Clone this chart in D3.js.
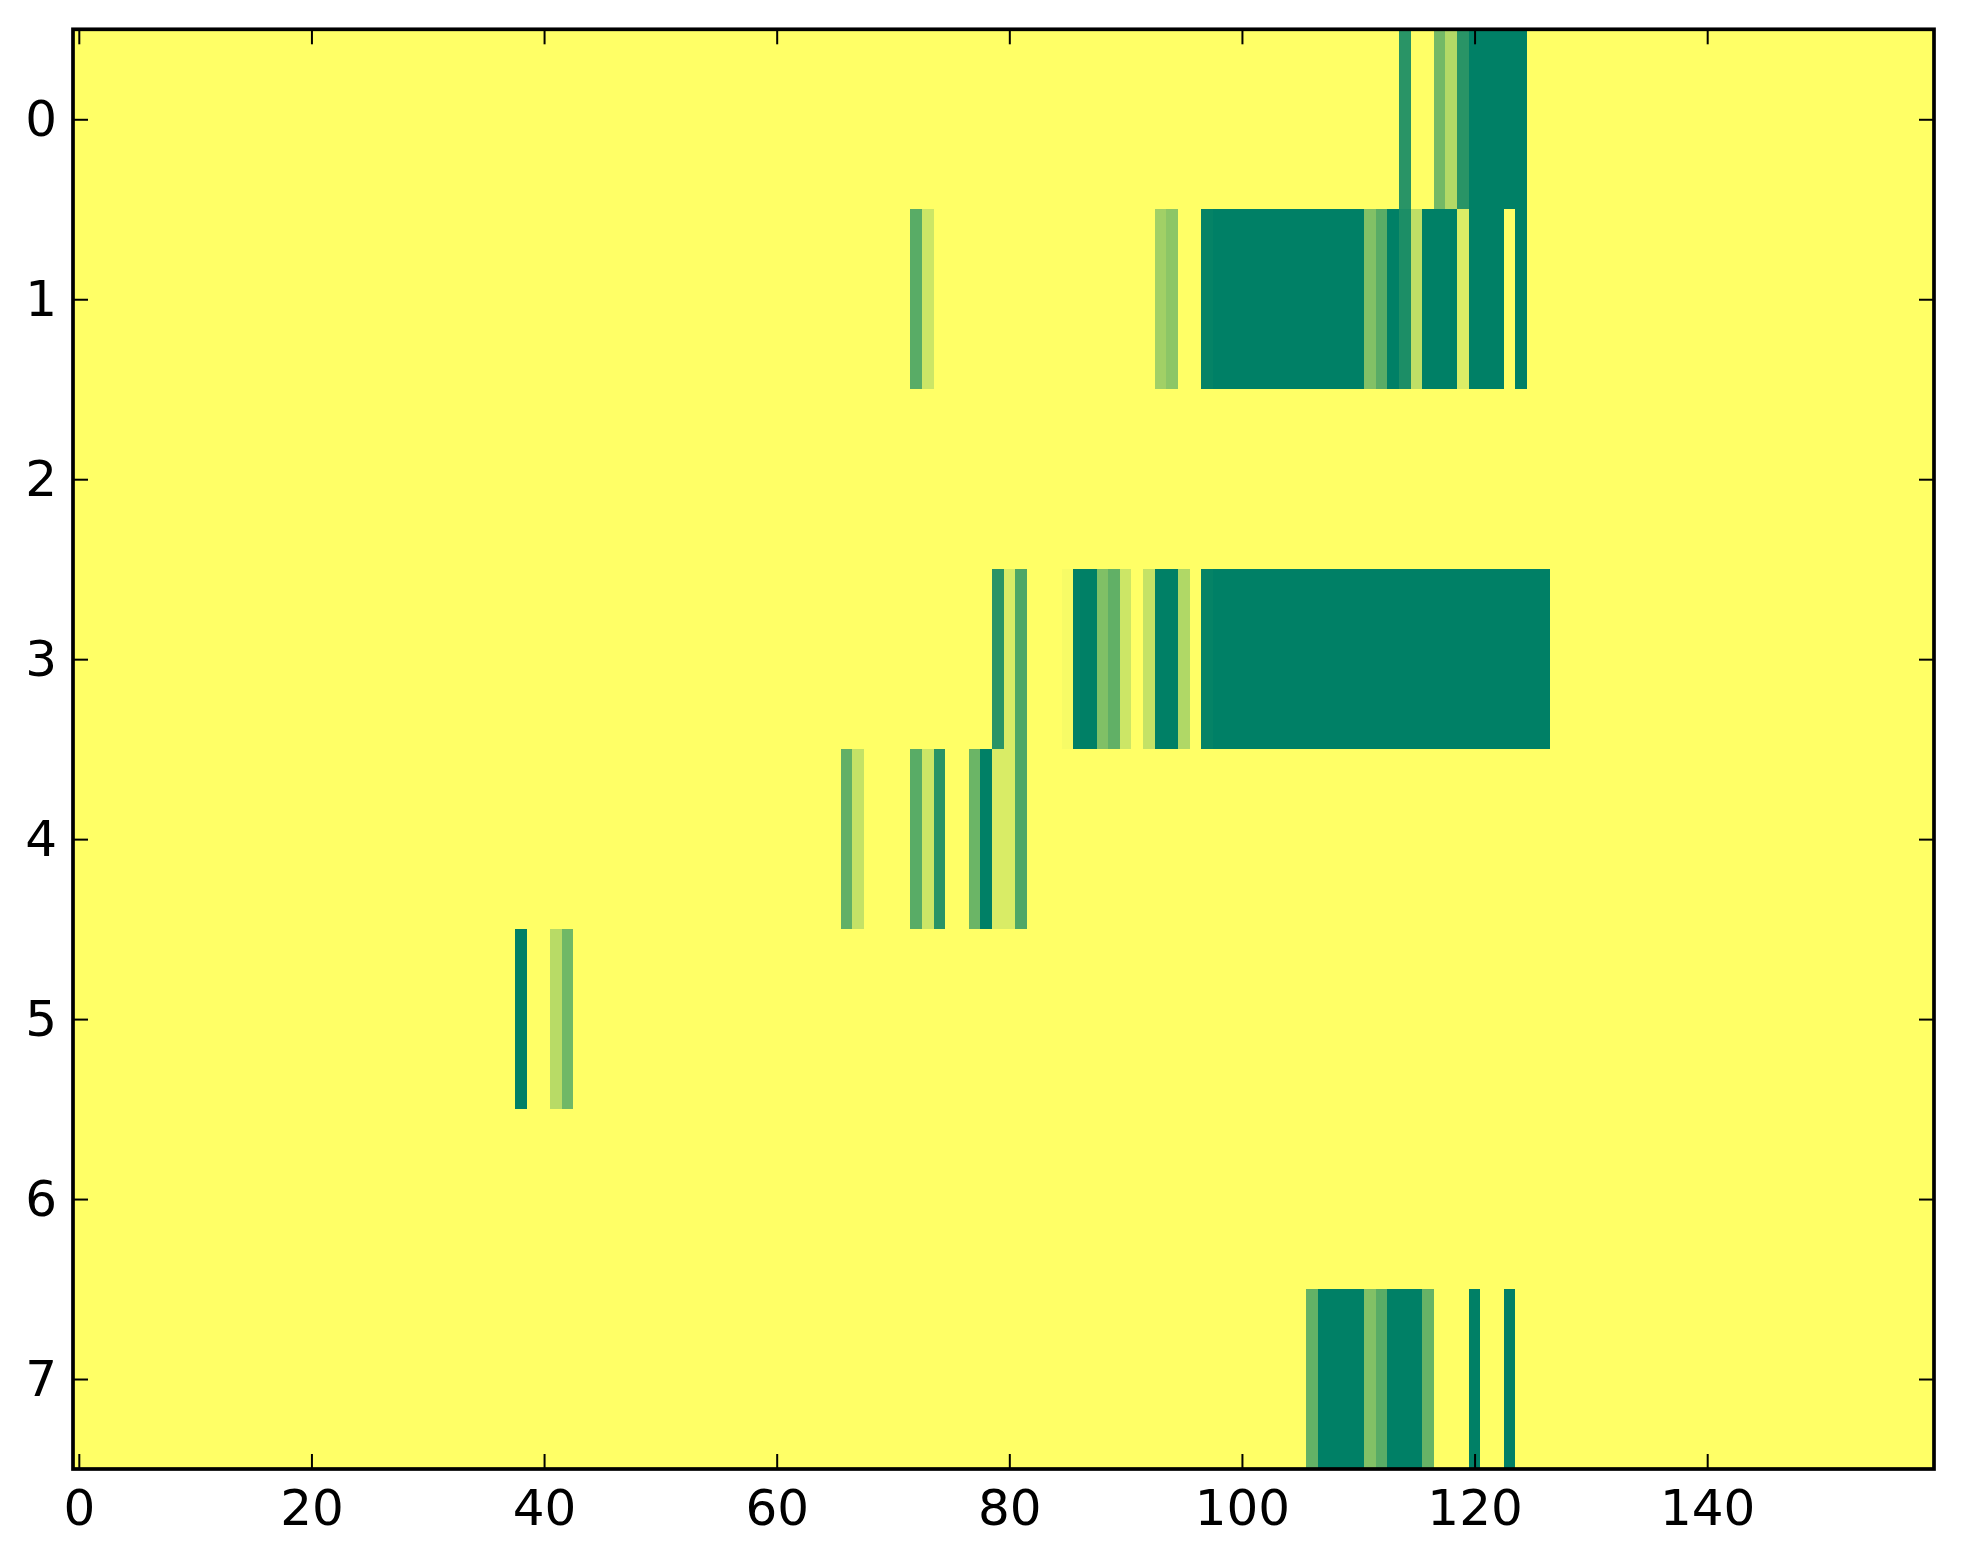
<!DOCTYPE html>
<html>
<head>
<meta charset="utf-8">
<script src="https://cdn.jsdelivr.net/npm/d3@7"></script>
<style>
  body { margin: 0; background: #fff; }
  svg { display: block; }
  .tick text { font-family: "DejaVu Sans", sans-serif; font-size: 50px; fill: #000; }
</style>
</head>
<body>
<svg id="chart"></svg>
<script>
const width = 1963;
const height = 1564;

// columns 0..159, rows 0..7; cells not listed are 0
const nCols = 160;
const nRows = 8;
const xTicks = [0, 20, 40, 60, 80, 100, 120, 140];
const yTicks = [0, 1, 2, 3, 4, 5, 6, 7];

// [column, value] per row
const row0 = [[114, .84], [117, .55], [118, .30], [119, .84], [120, 1], [121, 1], [122, 1], [123, 1], [124, 1]];
const row1 = [[72, .65], [73, .20], [93, .37], [94, .45],
  [97, .98], [98, 1], [99, 1], [100, 1], [101, 1], [102, 1], [103, 1], [104, 1], [105, 1], [106, 1], [107, 1], [108, 1], [109, 1], [110, 1],
  [111, .49], [112, .65], [113, 1], [114, .89], [115, .25], [116, 1], [117, 1], [118, 1], [119, .14],
  [120, 1], [121, 1], [122, 1], [124, 1]];
const row2 = [];
const row3 = [[79, .84], [80, .15], [81, .69], [85, .03], [86, 1], [87, 1], [88, .50], [89, .62], [90, .20],
  [92, .23], [93, 1], [94, 1], [95, .31],
  [97, .98], [98, 1], [99, 1], [100, 1], [101, 1], [102, 1], [103, 1], [104, 1], [105, 1], [106, 1], [107, 1], [108, 1],
  [109, 1], [110, 1], [111, 1], [112, 1], [113, 1], [114, 1], [115, 1], [116, 1], [117, 1], [118, 1], [119, 1], [120, 1],
  [121, 1], [122, 1], [123, 1], [124, 1], [125, 1], [126, 1]];
const row4 = [[66, .62], [67, .23], [72, .65], [73, .20], [74, .84], [77, .58], [78, 1], [79, .15], [80, .15], [81, .69]];
const row5 = [[38, 1], [41, .28], [42, .56]];
const row6 = [];
const row7 = [[106, .61], [107, 1], [108, 1], [109, 1], [110, 1], [111, .49], [112, .65], [113, 1], [114, 1], [115, 1],
  [116, .60], [120, 1], [123, 1]];

const rows = [row0, row1, row2, row3, row4, row5, row6, row7];

// full grid
const cells = [];
rows.forEach((r, ri) => {
    const m = new Map(r);
    for (let c = 0; c < nCols; c++) {
        cells.push({ row: ri, col: c, v: m.has(c) ? m.get(c) : 0 });
    }
});

const plotLeft = 73, plotRight = 1934, plotTop = 29.3, plotBottom = 1469;

const svg = d3.select("#chart")
    .attr("width", width)
    .attr("height", height);

const x = d3.scaleLinear().domain([-0.5, nCols - 0.5]).range([plotLeft, plotRight]);
const y = d3.scaleLinear().domain([-0.5, nRows - 0.5]).range([plotTop, plotBottom]);

// summer_r: yellow -> green
const color = d3.scaleLinear().domain([0, 1]).range(["#ffff66", "#008066"]);

svg.append("g")
    .selectAll("rect")
    .data(cells)
    .enter()
    .append("rect")
    .attr("x", d => x(d.col - 0.5))
    .attr("y", d => y(d.row - 0.5))
    .attr("width", x(1) - x(0) + 0.4)
    .attr("height", y(1) - y(0) + 0.4)
    .attr("fill", d => color(d.v))
    .attr("shape-rendering", "crispEdges");

// inward ticks on all four sides
const tickLen = 15;

const gB = svg.append("g")
    .attr("transform", `translate(0,${plotBottom})`)
    .call(d3.axisBottom(x).tickValues(xTicks).tickFormat(d3.format("d")).tickSize(-tickLen).tickPadding(20));
const gT = svg.append("g")
    .attr("transform", `translate(0,${plotTop})`)
    .call(d3.axisTop(x).tickValues(xTicks).tickFormat("").tickSize(-tickLen));
const gL = svg.append("g")
    .attr("transform", `translate(${plotLeft},0)`)
    .call(d3.axisLeft(y).tickValues(yTicks).tickFormat(d3.format("d")).tickSize(-tickLen).tickPadding(16));
const gR = svg.append("g")
    .attr("transform", `translate(${plotRight},0)`)
    .call(d3.axisRight(y).tickValues(yTicks).tickFormat("").tickSize(-tickLen));

[gB, gT, gL, gR].forEach(g => {
    g.select(".domain").remove();
    g.selectAll(".tick line").attr("stroke", "#000").attr("stroke-width", 2);
    g.selectAll(".tick text").attr("font-family", null).attr("font-size", null);
});

// frame
svg.append("rect")
    .attr("x", plotLeft)
    .attr("y", plotTop)
    .attr("width", plotRight - plotLeft)
    .attr("height", plotBottom - plotTop)
    .attr("fill", "none")
    .attr("stroke", "#000")
    .attr("stroke-width", 3.7);
</script>
</body>
</html>
